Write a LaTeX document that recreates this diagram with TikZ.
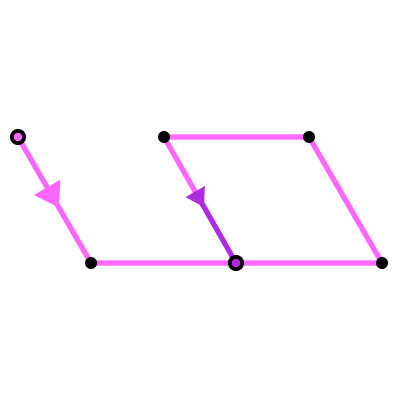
\documentclass[tikz,border=0pt]{standalone}
\usepackage{tikz}
\usetikzlibrary{arrows.meta,calc,decorations.markings}
\definecolor{cPink}{HTML}{FF66FF}
\definecolor{cPurp}{HTML}{B02CE0}
\tikzset{
  edge/.style ={line width=3.7pt,cPink},
  pedge/.style={edge,cPurp},
  dot/.style  ={circle,fill=black,inner sep=0pt,minimum size=3mm},
  odot/.style ={circle,draw=black,line width=2.6pt,inner sep=0pt,minimum size=3.1mm},
  midarr/.style n args={3}{postaction={decorate},
    decoration={markings,mark=at position #1 with {\arrow{Triangle[length=#2,width=#3]}}}},
}

\begin{document}
\begin{tikzpicture}[x=0.025cm,y=-0.025cm]
\useasboundingbox (0,0) rectangle (400,400);
% corners of the path
\coordinate (s) at (18,137);
\coordinate (a) at (91,263);
\coordinate (o) at (236,263);
\coordinate (b) at (382,263);
\coordinate (c) at (309,137);
\coordinate (d) at (164,137);
\coordinate (m) at ($(d)!0.44!(o)$);
% edges
\draw[edge,midarr={0.56}{5.8mm}{7.2mm}] (s) -- (a);
\draw[edge,line join=round] (a) -- (b) -- (c) -- (d) -- (m);
\draw[pedge,midarr={0.21}{4.5mm}{5.2mm}] (m) -- (o);
% points
\node[odot,fill=cPink] (S) at (s) {};
\foreach \p in {a,b,c,d} \node[dot] (P\p) at (\p) {};
\node[odot,fill=cPurp] (O) at (o) {};
\end{tikzpicture}
\end{document}
